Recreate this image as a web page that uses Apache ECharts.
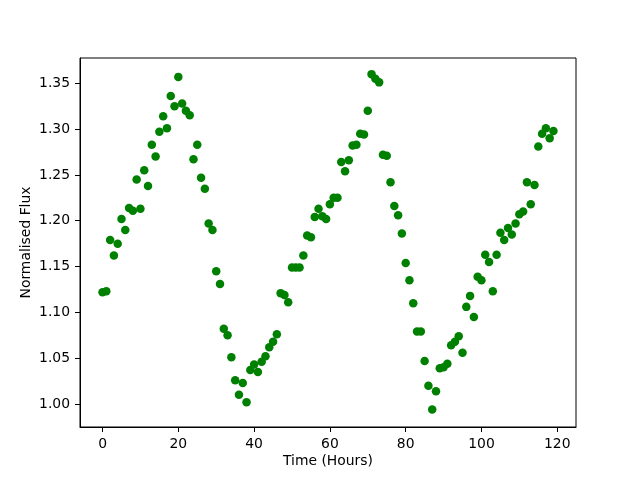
<!DOCTYPE html>
<html>
<head>
    <meta charset="utf-8">
    <title>Normalised Flux</title>
    <script src="https://cdn.jsdelivr.net/npm/echarts@6/dist/echarts.min.js"></script>
</head>
<body style="margin:0">
<div id="chart" style="width:640px;height:480px;"></div>

<script type="text/javascript">
    // time in hours, one reading per hour
    var hours = [];
    for (var h = 0; h < 120; h++) hours.push(h);

    var flux = [
        1.122, 1.123, 1.179, 1.162, 1.175, 1.202, 1.190, 1.214, 1.211, 1.245,
        1.213, 1.255, 1.238, 1.283, 1.270, 1.297, 1.314, 1.301, 1.336, 1.325,
        1.357, 1.328, 1.320, 1.315, 1.267, 1.283, 1.247, 1.235, 1.197, 1.190,
        1.145, 1.131, 1.082, 1.075, 1.051, 1.026, 1.010, 1.023, 1.002, 1.037,
        1.043, 1.035, 1.046, 1.052, 1.062, 1.068, 1.076, 1.121, 1.119, 1.111,
        1.149, 1.149, 1.149, 1.162, 1.184, 1.182, 1.204, 1.213, 1.205, 1.202,
        1.218, 1.225, 1.225, 1.264, 1.254, 1.266, 1.282, 1.283, 1.295, 1.294,
        1.320, 1.360, 1.355, 1.351, 1.272, 1.271, 1.242, 1.216, 1.206, 1.186,
        1.154, 1.135, 1.110, 1.079, 1.079, 1.047, 1.020, 0.994, 1.014, 1.039,
        1.040, 1.044, 1.064, 1.068, 1.074, 1.056, 1.106, 1.118, 1.095, 1.139,
        1.135, 1.163, 1.155, 1.123, 1.163, 1.187, 1.179, 1.192, 1.185, 1.197,
        1.207, 1.210, 1.242, 1.218, 1.239, 1.281, 1.295, 1.301, 1.290, 1.298
    ];

    var xTicks = [0, 20, 40, 60, 80, 100, 120];
    var yTicks = [1.00, 1.05, 1.10, 1.15, 1.20, 1.25, 1.30, 1.35];

    var points = hours.map(function (t, i) { return [t, flux[i]]; });

    var font = 'DejaVu Sans';
    var myChart = echarts.init(document.getElementById('chart'));
    var option = {
        backgroundColor: '#fff',
        animation: false,
        grid: {
            left: 80, right: 64, top: 58, bottom: 53,
            show: true, borderColor: '#000', borderWidth: 1
        },
        xAxis: {
            type: 'value',
            min: -5.95, max: 124.95,
            name: 'Time (Hours)',
            nameLocation: 'middle',
            nameGap: 27,
            nameMoveOverlap: false,
            nameTextStyle: { fontFamily: font, fontSize: 13.9, color: '#000' },
            splitLine: { show: false },
            axisLine: { onZero: false, lineStyle: { color: '#000', width: 1 } },
            axisTick: { inside: false, length: 5, customValues: xTicks, lineStyle: { color: '#000' } },
            axisLabel: {
                customValues: xTicks, margin: 10,
                fontFamily: font, fontSize: 13.9, color: '#000'
            }
        },
        yAxis: {
            type: 'value',
            min: 0.9749, max: 1.3776,
            name: 'Normalised Flux',
            nameLocation: 'middle',
            nameGap: 47,
            nameMoveOverlap: false,
            nameTextStyle: { fontFamily: font, fontSize: 13.9, color: '#000' },
            splitLine: { show: false },
            axisLine: { onZero: false, lineStyle: { color: '#000', width: 1 } },
            axisTick: { inside: false, length: 5, customValues: yTicks, lineStyle: { color: '#000' } },
            axisLabel: {
                customValues: yTicks, margin: 10,
                fontFamily: font, fontSize: 13.9, color: '#000',
                formatter: function (v) { return v.toFixed(2); }
            }
        },
        series: [{
            type: 'scatter',
            data: points,
            symbol: 'circle',
            symbolSize: 8.5,
            itemStyle: { color: '#008000', opacity: 1 }
        }]
    };
    myChart.setOption(option);
</script>
</body>
</html>
